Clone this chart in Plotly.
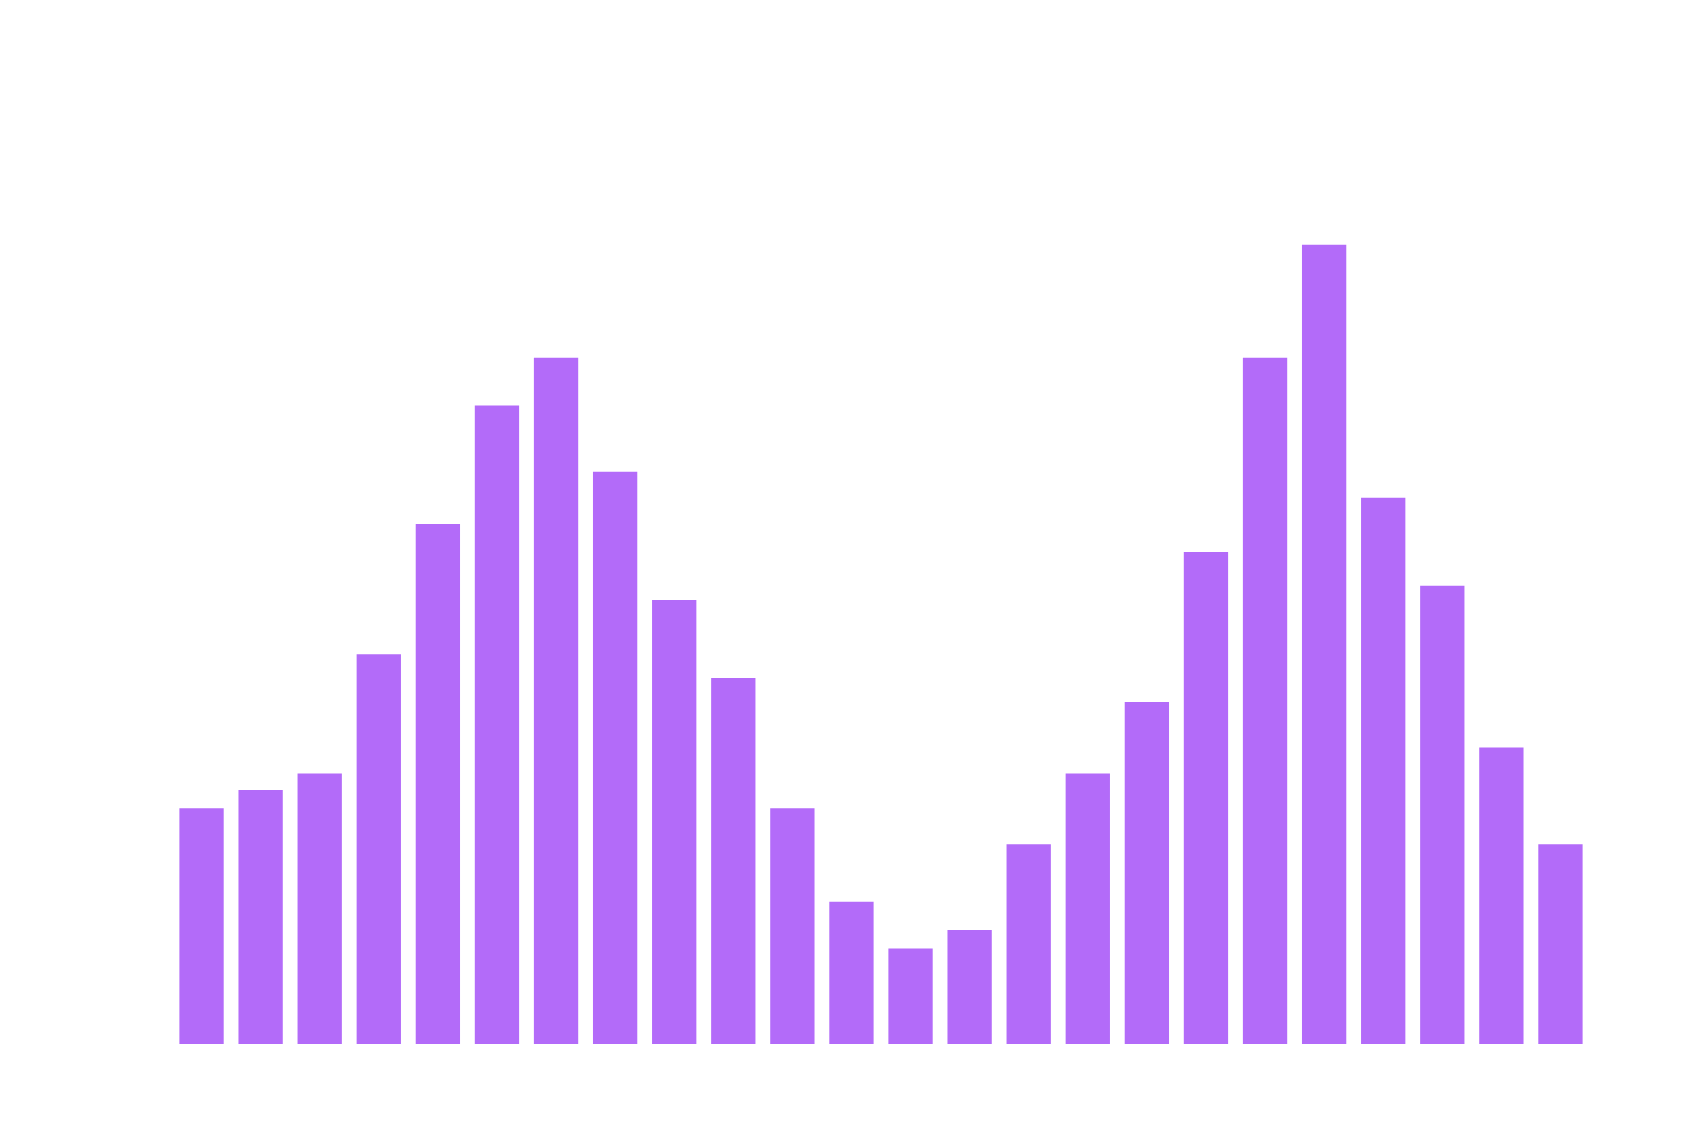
import plotly.graph_objects as go

categories = [str(i) for i in range(1, 25)]
values = [217, 234, 249, 359, 479, 588, 632, 527, 409, 337, 217, 131,
          88, 105, 184, 249, 315, 453, 632, 736, 503, 422, 273, 184]

fig = go.Figure(go.Bar(x=categories, y=values, marker=dict(color="#b36bf9", line=dict(width=0))))
fig.update_layout(
    width=1700, height=1130,
    margin=dict(l=164, r=118, t=100, b=94),
    paper_bgcolor="white", plot_bgcolor="white",
    bargap=0.25, showlegend=False,
    xaxis=dict(visible=False),
    yaxis=dict(visible=False, range=[0, 862]),
)
fig.write_html("out.html")
